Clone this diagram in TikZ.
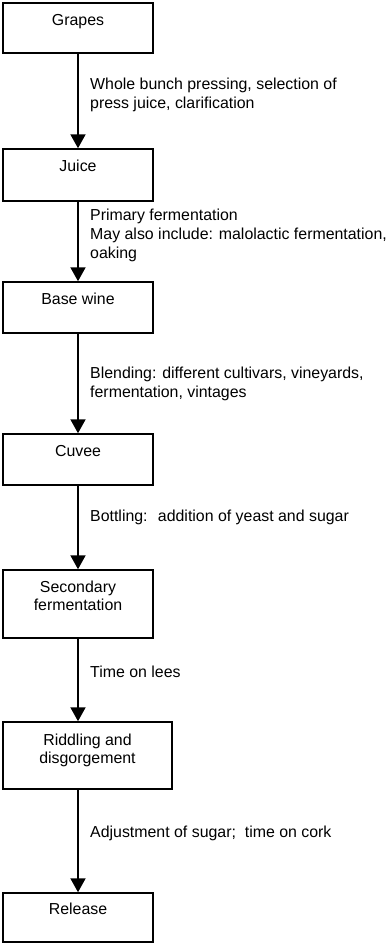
\documentclass[tikz,border=0pt]{standalone}
\usepackage{fontspec}
\setmainfont{Liberation Sans}
\usetikzlibrary{arrows.meta}
\begin{document}
\begin{tikzpicture}[x=1pt,y=-1pt,
  stepbox/.style={draw=black, line width=1.5pt, fill=white, inner sep=0pt, minimum width=150pt},
  boxtext/.style={inner sep=0pt, align=center, anchor=base, font=\fontsize{15.9}{17.8}\selectfont},
  steplabel/.style={inner sep=0pt, align=left, anchor=base west, font=\fontsize{15.9}{19}\selectfont},
  flow/.style={line width=2pt, -{Triangle[length=14pt,width=15pt]}}]
\useasboundingbox (0,0) rectangle (390,945);
% boxes
\node[stepbox, minimum height=50pt] (grapes) at (78,28) {};
\node[stepbox, minimum height=52pt] (juice) at (78,175) {};
\node[stepbox, minimum height=51pt] (base) at (78,307.5) {};
\node[stepbox, minimum height=51pt] (cuvee) at (78,459.5) {};
\node[stepbox, minimum height=68pt] (sec) at (78,604) {};
\node[stepbox, minimum width=169pt, minimum height=67pt] (riddle) at (87.5,755.5) {};
\node[stepbox, minimum height=49pt] (release) at (78,917.5) {};
% box texts (base anchor = baseline of last line)
\node[boxtext] (tgrapes) at ([yshift=-23.5pt]grapes.north) {Grapes};
\node[boxtext] (tjuice) at ([yshift=-23.5pt]juice.north) {Juice};
\node[boxtext] (tbase) at ([yshift=-23.5pt]base.north) {Base wine};
\node[boxtext] (tcuvee) at ([yshift=-23.5pt]cuvee.north) {Cuvee};
\node[boxtext] (tsec) at ([yshift=-41pt]sec.north) {Secondary\\fermentation};
\node[boxtext] (triddle) at ([yshift=-42.5pt]riddle.north) {Riddling and\\disgorgement};
\node[boxtext] (trelease) at ([yshift=-22.5pt]release.north) {Release};
% connectors
\draw[flow] (grapes.south) -- (juice.north);
\draw[flow] (juice.south) -- (base.north);
\draw[flow] (base.south) -- (cuvee.north);
\draw[flow] (cuvee.south) -- (sec.north);
\draw[flow] (sec.south) -- (sec.south |- riddle.north);
\draw[flow] (sec.south |- riddle.south) -- (release.north);
% step labels (base anchor = baseline of last line)
\node[steplabel] (l1) at (90,108.8) {Whole bunch pressing, selection of\\press juice, clarification};
\node[steplabel] (l2) at (90,258.5) {Primary fermentation\\May also include: malolactic fermentation,\\oaking};
\node[steplabel] (l3) at (90,397) {Blending: different cultivars, vineyards,\\fermentation, vintages};
\node[steplabel] (l4) at (90,521.5) {Bottling:~ addition of yeast and sugar};
\node[steplabel] (l5) at (90,677.5) {Time on lees};
\node[steplabel] (l6) at (90,837.5) {Adjustment of sugar;~ time on cork};
\end{tikzpicture}
\end{document}
